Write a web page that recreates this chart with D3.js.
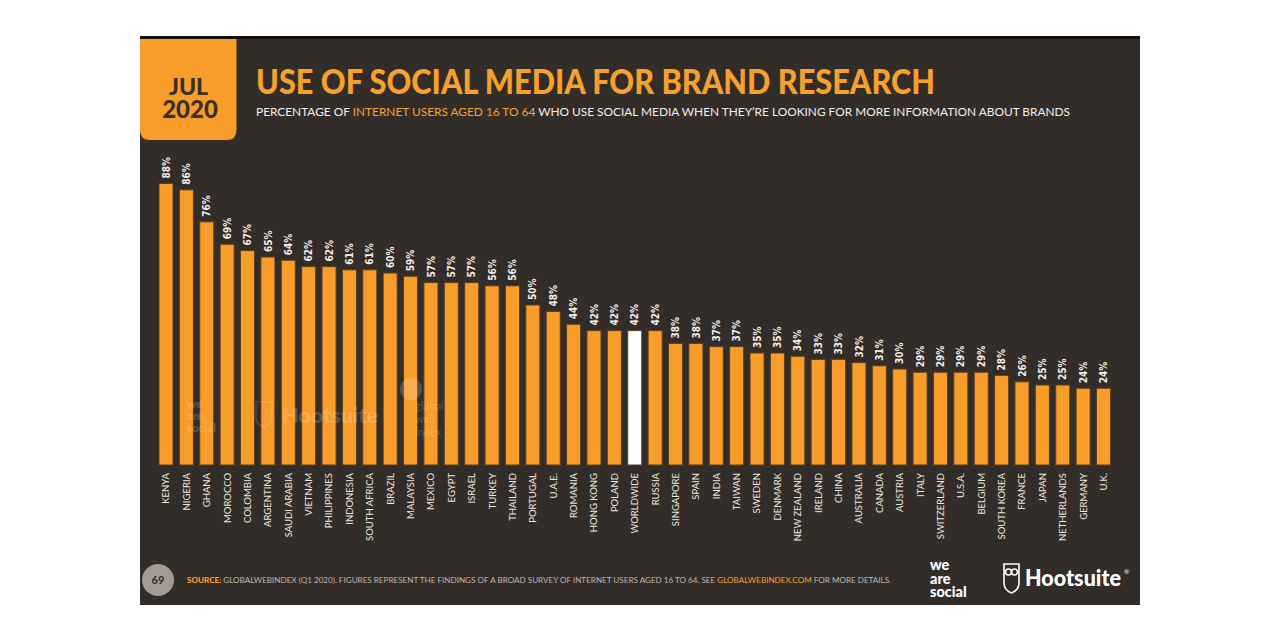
<!DOCTYPE html>
<html><head><meta charset="utf-8">
<script src="https://cdn.jsdelivr.net/npm/d3@7"></script>
<style>body{margin:0;background:#fff}svg{display:block}</style>
</head><body>
<svg id="c" width="1280" height="640"></svg>
<script>
const countries = ["KENYA","NIGERIA","GHANA","MOROCCO","COLOMBIA","ARGENTINA","SAUDI ARABIA","VIETNAM","PHILIPPINES","INDONESIA","SOUTH AFRICA","BRAZIL","MALAYSIA","MEXICO","EGYPT","ISRAEL","TURKEY","THAILAND","PORTUGAL","U.A.E.","ROMANIA","HONG KONG","POLAND","WORLDWIDE","RUSSIA","SINGAPORE","SPAIN","INDIA","TAIWAN","SWEDEN","DENMARK","NEW ZEALAND","IRELAND","CHINA","AUSTRALIA","CANADA","AUSTRIA","ITALY","SWITZERLAND","U.S.A.","BELGIUM","SOUTH KOREA","FRANCE","JAPAN","NETHERLANDS","GERMANY","U.K."];
const values = [88,86,76,69,67,65,64,62,62,61,61,60,59,57,57,57,56,56,50,48,44,42,42,42,42,38,38,37,37,35,35,34,33,33,32,31,30,29,29,29,29,28,26,25,25,24,24];
const highlight = "WORLDWIDE";
const title = "USE OF SOCIAL MEDIA FOR BRAND RESEARCH";
const subtitleParts = [["PERCENTAGE OF ", false],["INTERNET USERS AGED 16 TO 64", true],[" WHO USE SOCIAL MEDIA WHEN THEY’RE LOOKING FOR MORE INFORMATION ABOUT BRANDS", false]];
const footerParts = [["SOURCE: ", true, true],["GLOBALWEBINDEX (Q1 2020). FIGURES REPRESENT THE FINDINGS OF A BROAD SURVEY OF INTERNET USERS AGED 16 TO 64. SEE ", false, false],["GLOBALWEBINDEX.COM", true, false],[" FOR MORE DETAILS.", false, false]];

const BG = "#332d2a", ORANGE = "#f89c2a", TITLE_OR = "#f6a02e";
const svg = d3.select("#c");

// panel
svg.append("rect").attr("x",140).attr("y",38).attr("width",1000).attr("height",567).attr("fill",BG);
svg.append("rect").attr("x",140).attr("y",36).attr("width",1000).attr("height",3).attr("fill","#111");

// badge
svg.append("path").attr("fill",ORANGE)
  .attr("d","M140,39 H236.5 V130 Q236.5,140 226.5,140 H150 Q140,140 140,130 Z");
svg.append("text").attr("x",188.5).attr("y",94.5).attr("text-anchor","middle")
  .attr("font-family","Lato").attr("font-weight",900).attr("font-size",23).attr("fill","#3a2e26").text("JUL");
svg.append("text").attr("x",190).attr("y",117.5).attr("text-anchor","middle")
  .attr("font-family","Lato").attr("font-weight",900).attr("font-size",24).attr("fill","#3a2e26").text("2020");

// title
svg.append("text").attr("x",256).attr("y",94).attr("font-family","Lato").attr("font-weight",900)
  .attr("font-size",34.5).attr("fill",TITLE_OR).attr("textLength",679).attr("lengthAdjust","spacingAndGlyphs").text(title);
const sub = svg.append("text").attr("x",256).attr("y",115.5).attr("font-family","Lato").attr("font-size",11)
  .attr("textLength",814).attr("lengthAdjust","spacingAndGlyphs");
subtitleParts.forEach(([t,o])=>sub.append("tspan").attr("fill",o?TITLE_OR:"#f2ede8").text(t));

// scales
const x = d3.scaleBand().domain(countries).range([155.8,1113.7]).paddingInner(0.31).paddingOuter(0.155);
const y = d3.scaleLinear().domain([0,100]).range([465,145]);
const data = countries.map((c,i)=>({c, v: values[i]}));

// bars
const g = svg.append("g");
g.selectAll("rect.bar").data(data).join("rect").attr("class","bar")
  .attr("x",d=>x(d.c)).attr("width",x.bandwidth())
  .attr("y",d=>y(d.v)).attr("height",d=>y(0)-y(d.v))
  .attr("fill",d=>d.c===highlight?"#ffffff":ORANGE)
  .attr("stroke","#5b3d1c").attr("stroke-width",1);

// watermarks (faint, over bars)
const wm = svg.append("g").attr("fill","#fff").attr("opacity",0.18).attr("font-family","Lato").attr("font-weight",900);
[["we",408],["are",420],["social",432]].forEach(([t,yy])=>wm.append("text").attr("x",187).attr("y",yy).attr("font-size",11.5).text(t));
wm.append("path").attr("fill","none").attr("stroke","#fff").attr("stroke-width",1.2)
  .attr("d","M256,402 H272 V418 Q272,424 264,427 Q256,424 256,418 Z");
wm.append("text").attr("x",282).attr("y",423).attr("font-size",20).attr("textLength",96).attr("lengthAdjust","spacingAndGlyphs").text("Hootsuite");
wm.append("circle").attr("cx",411).attr("cy",389).attr("r",11);
[["global",410],["web",423],["index",436]].forEach(([t,yy])=>wm.append("text").attr("x",415).attr("y",yy).attr("font-size",11).attr("font-weight",400).text(t));

// value labels
g.selectAll("text.val").data(data).join("text").attr("class","val")
  .attr("transform",d=>`translate(${x(d.c)+x.bandwidth()/2},${y(d.v)-5}) rotate(-90)`)
  .attr("dy","0.36em").attr("font-family","'Liberation Sans Narrow', 'DejaVu Sans Condensed', sans-serif")
  .attr("font-weight",700).attr("font-size",10).attr("fill","#f3eee9").text(d=>d.v+"%");

// country labels
g.selectAll("text.cat").data(data).join("text").attr("class","cat")
  .attr("transform",d=>`translate(${x(d.c)+x.bandwidth()/2},473) rotate(-90)`)
  .attr("text-anchor","end").attr("dy","0.36em").attr("font-family","Lato")
  .attr("font-size",9.5).attr("fill","#ebe5df").text(d=>d.c);

// footer
svg.append("circle").attr("cx",158).attr("cy",580).attr("r",16).attr("fill","#a39b92");
svg.append("text").attr("x",158).attr("y",584).attr("text-anchor","middle").attr("font-family","Lato")
  .attr("font-weight",900).attr("font-size",11).attr("fill","#3a322c").text("69");
const ft = svg.append("text").attr("x",187).attr("y",582.5).attr("font-family","Lato").attr("font-size",7.4)
  .attr("textLength",704).attr("lengthAdjust","spacingAndGlyphs");
footerParts.forEach(([t,o,b])=>ft.append("tspan").attr("fill",o?"#f0a030":"#bdb5ad").attr("font-weight",b?900:400).text(t));

// logos
const ws = svg.append("g").attr("fill","#fff").attr("font-family","Lato").attr("font-weight",900);
[["we",570],["are",583.5],["social",597]].forEach(([t,yy])=>ws.append("text").attr("x",930).attr("y",yy).attr("font-size",14.5).text(t));
const owl = svg.append("g").attr("fill","none").attr("stroke","#fff").attr("stroke-width",1.6);
owl.append("path").attr("d","M1004,564 H1019 V583 Q1019,590 1011.5,593 Q1004,590 1004,583 Z");
owl.append("circle").attr("cx",1008.5).attr("cy",572).attr("r",3);
owl.append("circle").attr("cx",1014.5).attr("cy",572).attr("r",3);
svg.append("text").attr("x",1025).attr("y",586).attr("font-family","Lato").attr("font-weight",900)
  .attr("font-size",23).attr("fill","#fff").attr("textLength",96).attr("lengthAdjust","spacingAndGlyphs").text("Hootsuite");
svg.append("text").attr("x",1124).attr("y",574).attr("font-family","Lato").attr("font-size",6.5).attr("fill","#fff").text("®");
</script>
</body></html>
